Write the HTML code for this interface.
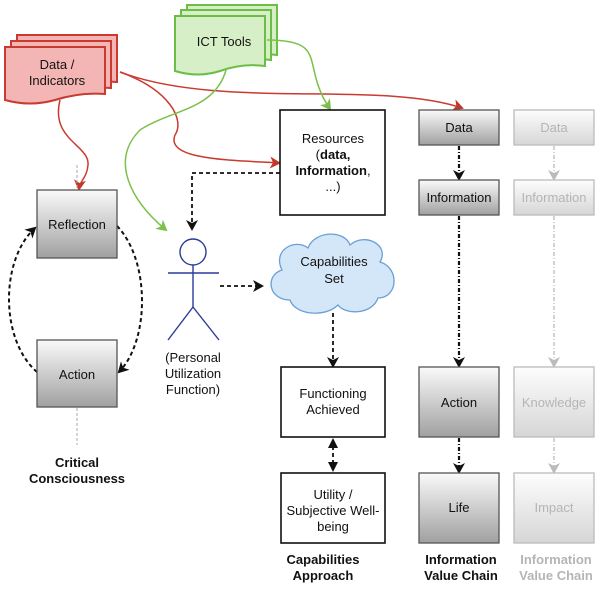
<!DOCTYPE html>
<html><head><meta charset="utf-8"><style>
body{margin:0;background:#fff}
svg text{font-family:"Liberation Sans",Arial,sans-serif;font-size:13px;text-anchor:middle;fill:#111}
</style></head><body>
<svg width="600" height="585" viewBox="0 0 600 585" xmlns="http://www.w3.org/2000/svg">
<defs>
<linearGradient id="g" x1="0" y1="0" x2="0" y2="1"><stop offset="0" stop-color="#fafafa"/><stop offset="1" stop-color="#a0a0a0"/></linearGradient>
<linearGradient id="gl" x1="0" y1="0" x2="0" y2="1"><stop offset="0" stop-color="#fdfdfd"/><stop offset="1" stop-color="#d6d6d6"/></linearGradient>
<marker id="ab" markerWidth="12" markerHeight="12" refX="9" refY="6" orient="auto" markerUnits="userSpaceOnUse"><path d="M0,0 L11,6 L0,12 L3,6z" fill="#111"/></marker>
<marker id="ag" markerWidth="12" markerHeight="12" refX="9" refY="6" orient="auto" markerUnits="userSpaceOnUse"><path d="M0,0 L11,6 L0,12 L3,6z" fill="#bbb"/></marker>
<marker id="ar" markerWidth="12" markerHeight="12" refX="9" refY="6" orient="auto" markerUnits="userSpaceOnUse"><path d="M0,0 L11,6 L0,12 L3,6z" fill="#c0392b"/></marker>
<marker id="agr" markerWidth="12" markerHeight="12" refX="9" refY="6" orient="auto" markerUnits="userSpaceOnUse"><path d="M0,0 L11,6 L0,12 L3,6z" fill="#7cc04b"/></marker>
</defs>

<g fill="#f4b6b4" stroke="#c93a30" stroke-width="2">
<path d="M17,35 H117 V82 Q92,80 67,88 Q42,95 17,88 Z"/>
<path d="M11,41 H111 V88 Q86,86 61,94 Q36,101 11,94 Z"/>
<path d="M5,47 H105 V94 Q80,92 55,100 Q30,107 5,100 Z"/>
</g>
<text x="57" y="69">Data /</text><text x="57" y="85">Indicators</text>
<g fill="#d6efc6" stroke="#6cbd45" stroke-width="2">
<path d="M187,5 H277 V55 Q255,52 232,60 Q210,67 187,60 Z"/>
<path d="M181,10 H271 V60 Q249,57 226,65 Q204,72 181,65 Z"/>
<path d="M175,16 H265 V66 Q243,63 220,71 Q198,78 175,71 Z"/>
</g>
<text x="224" y="46">ICT Tools</text>

<g fill="none" stroke-width="1.5">
<path d="M120,72 C220,110 380,80 462,108" stroke="#c93a30" marker-end="url(#ar)"/>
<path d="M120,72 C170,90 185,120 175,135 C165,160 230,160 279,163" stroke="#c93a30" marker-end="url(#ar)"/>
<path d="M60,100 C50,140 90,145 88,165 C87,178 80,180 79,189" stroke="#c93a30" marker-end="url(#ar)"/>
<path d="M267,40 C330,40 300,65 330,109" stroke="#7cc04b" marker-end="url(#agr)"/>
<path d="M226,70 C215,110 170,110 140,130 C110,160 130,200 166,230" stroke="#7cc04b" marker-end="url(#agr)"/>
</g>

<line x1="77" y1="165" x2="77" y2="189" stroke="#aaa" stroke-dasharray="3,2"/>
<line x1="77" y1="408" x2="77" y2="445" stroke="#aaa" stroke-dasharray="3,2"/>

<g fill="none" stroke="#111" stroke-width="2" stroke-dasharray="4,3">
<path d="M37,372 C0,340 0,260 35,228" marker-end="url(#ab)"/>
<path d="M117,226 C150,260 150,340 119,372" marker-end="url(#ab)"/>
</g>

<rect x="37" y="190" width="80" height="68" fill="url(#g)" stroke="#555" stroke-width="1.3"/>
<text x="77" y="229">Reflection</text>
<rect x="37" y="340" width="80" height="67" fill="url(#g)" stroke="#555" stroke-width="1.3"/>
<text x="77" y="379">Action</text>
<text x="77" y="467" font-weight="bold">Critical</text>
<text x="77" y="483" font-weight="bold">Consciousness</text>

<rect x="280" y="110" width="105" height="105" fill="#fff" stroke="#111" stroke-width="1.6"/>
<text x="333" y="143">Resources</text>
<text x="333" y="159">(<tspan font-weight="bold">data,</tspan></text>
<text x="333" y="175"><tspan font-weight="bold">Information</tspan>,</text>
<text x="333" y="191">...)</text>
<path d="M280,173 H192 V229" fill="none" stroke="#111" stroke-width="1.8" stroke-dasharray="4,3" marker-end="url(#ab)"/>

<g stroke="#2b3a9a" stroke-width="1.4" fill="none">
<circle cx="193" cy="252" r="13"/>
<line x1="193" y1="265" x2="193" y2="307"/>
<line x1="168" y1="273" x2="219" y2="273"/>
<line x1="193" y1="307" x2="168" y2="340"/>
<line x1="193" y1="307" x2="219" y2="340"/>
</g>
<text x="193" y="362">(Personal</text><text x="193" y="378">Utilization</text><text x="193" y="394">Function)</text>
<line x1="220" y1="286" x2="262" y2="286" stroke="#111" stroke-width="1.8" stroke-dasharray="4,3" marker-end="url(#ab)"/>

<path d="M290,300 C268,300 265,275 282,270 C272,250 295,238 308,248 C315,230 345,230 350,245 C365,232 390,245 380,262 C400,268 398,298 378,298 C372,315 345,315 338,305 C325,318 295,315 290,300 Z" fill="#d4e7f8" stroke="#6a9fd6" stroke-width="1.3"/>
<text x="334" y="266">Capabilities</text><text x="334" y="283">Set</text>
<line x1="333" y1="313" x2="333" y2="366" stroke="#111" stroke-width="1.8" stroke-dasharray="4,3" marker-end="url(#ab)"/>

<rect x="281" y="367" width="104" height="70" fill="#fff" stroke="#111" stroke-width="1.6"/>
<text x="333" y="398">Functioning</text><text x="333" y="414">Achieved</text>
<line x1="333" y1="446" x2="333" y2="464" stroke="#111" stroke-width="1.8" stroke-dasharray="4,3"/>
<path d="M333,438 l-5,10 h10z M333,472 l-5,-10 h10z" fill="#111"/>
<rect x="281" y="473" width="104" height="70" fill="#fff" stroke="#111" stroke-width="1.6"/>
<text x="333" y="499">Utility /</text><text x="333" y="515">Subjective Well-</text><text x="333" y="531">being</text>
<text x="323" y="564" font-weight="bold">Capabilities</text><text x="323" y="580" font-weight="bold">Approach</text>

<g stroke="#111" stroke-width="2.2" stroke-dasharray="4,2,1,2" fill="none">
<line x1="459" y1="146" x2="459" y2="179" marker-end="url(#ab)"/>
<line x1="459" y1="216" x2="459" y2="366" marker-end="url(#ab)"/>
<line x1="459" y1="438" x2="459" y2="472" marker-end="url(#ab)"/>
</g>
<g fill="url(#g)" stroke="#555" stroke-width="1.3">
<rect x="419" y="110" width="80" height="35"/>
<rect x="419" y="180" width="80" height="35"/>
<rect x="419" y="367" width="80" height="70"/>
<rect x="419" y="473" width="80" height="70"/>
</g>
<text x="459" y="132">Data</text><text x="459" y="202">Information</text>
<text x="459" y="407">Action</text><text x="459" y="512">Life</text>
<text x="461" y="564" font-weight="bold">Information</text><text x="461" y="580" font-weight="bold">Value Chain</text>

<g stroke="#bbb" stroke-width="1.3" stroke-dasharray="4,2,1,2" fill="none">
<line x1="554" y1="146" x2="554" y2="179" marker-end="url(#ag)"/>
<line x1="554" y1="216" x2="554" y2="366" marker-end="url(#ag)"/>
<line x1="554" y1="438" x2="554" y2="472" marker-end="url(#ag)"/>
</g>
<g fill="url(#gl)" stroke="#bbb" stroke-width="1.3">
<rect x="514" y="110" width="80" height="35"/>
<rect x="514" y="180" width="80" height="35"/>
<rect x="514" y="367" width="80" height="70"/>
<rect x="514" y="473" width="80" height="70"/>
</g>
<g>
<text x="554" y="132" style="fill:#b5b5b5">Data</text><text x="554" y="202" style="fill:#b5b5b5">Information</text>
<text x="554" y="407" style="fill:#b5b5b5">Knowledge</text><text x="554" y="512" style="fill:#b5b5b5">Impact</text>
<text x="556" y="564" font-weight="bold" style="fill:#b5b5b5">Information</text><text x="556" y="580" font-weight="bold" style="fill:#b5b5b5">Value Chain</text>
</g>
</svg>
</body></html>
